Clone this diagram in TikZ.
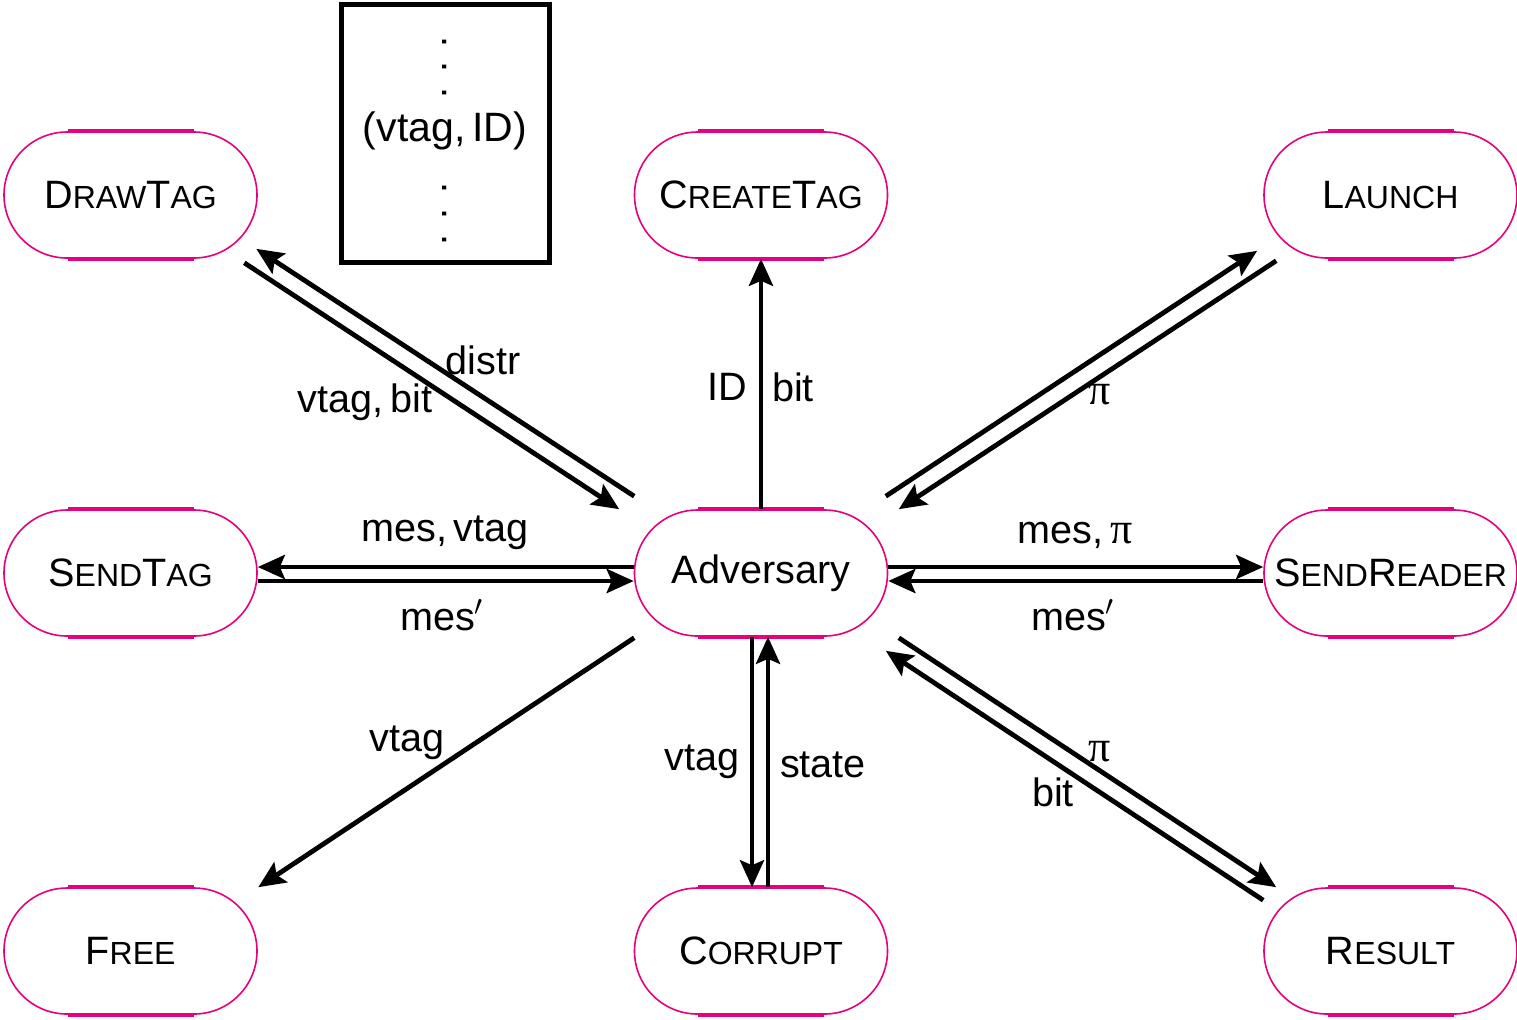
\documentclass[tikz,border=0pt]{standalone}
\usepackage{fontspec}
\setmainfont{Liberation Sans}
\newfontfamily\pifont{Liberation Serif}
\usetikzlibrary{arrows.meta,shapes.misc,calc}
\definecolor{mag}{RGB}{230,0,126}
\newcommand\fsc[1]{{\fontsize{16}{16}\selectfont #1}}
\newcommand\PI{{\pifont\fontsize{22}{22}\selectfont π}}
\begin{document}
\begin{tikzpicture}[x=0.5pt,y=-0.5pt,
  proc/.style={draw=mag,line width=0.8pt,rounded rectangle,minimum width=126.5pt,
    minimum height=63pt,inner sep=0pt,font=\fontsize{19.8}{22}\selectfont},
  lab/.style={inner sep=0pt,font=\fontsize{19.8}{22}\selectfont},
  conn/.style={line width=2.4pt,-{Stealth[length=13.5pt,width=12pt,inset=2.5pt]}},
  thickseg/.style={draw=mag,line width=2pt}]
\useasboundingbox (0,0) rectangle (1517,1019);
% nodes
\node[proc] (dt) at (130.5,195) {D\fsc{RAW}T\fsc{AG}};
\node[proc] (ct) at (761,195) {C\fsc{REATE}T\fsc{AG}};
\node[proc] (la) at (1390.5,195) {L\fsc{AUNCH}};
\node[proc] (st) at (130.5,573) {S\fsc{END}T\fsc{AG}};
\node[proc] (ad) at (761,573) {Adversary};
\node[proc] (sr) at (1390.5,573) {S\fsc{END}R\fsc{EADER}};
\node[proc] (fr) at (130.5,951) {F\fsc{REE}};
\node[proc] (co) at (761,951) {C\fsc{ORRUPT}};
\node[proc] (re) at (1390.5,951) {R\fsc{ESULT}};
\foreach \n in {dt,ct,la,st,ad,sr,fr,co,re}{
  \draw[thickseg] ($(\n.north)+(-63,0)$) -- ($(\n.north)+(63,0)$);
  \draw[thickseg] ($(\n.south)+(-63,0)$) -- ($(\n.south)+(63,0)$);
}
% bounding-box corners of nodes
\coordinate (adNW) at (ad.west |- ad.north);
\coordinate (adNE) at (ad.east |- ad.north);
\coordinate (adSW) at (ad.west |- ad.south);
\coordinate (adSE) at (ad.east |- ad.south);
\coordinate (dtSE) at (dt.east |- dt.south);
\coordinate (laSW) at (la.west |- la.south);
\coordinate (frNE) at (fr.east |- fr.north);
\coordinate (reNW) at (re.west |- re.north);
% box
\node[draw,line width=2.5pt,minimum width=104pt,minimum height=129pt,inner sep=0pt] (box) at (445,133) {};
\node[lab,rotate=-90] (dots1) at (445,67.5) {. . .};
\node[lab,font=\fontsize{20.5}{22}\selectfont] (pair) at (445,131) {(vtag,\,ID)};
\node[lab,rotate=-90] (dots2) at (445,214) {. . .};
% DrawTag
\draw[conn] ($(adNW)+(0.5,-13)$) -- ($(dtSE)+(-1.5,-10)$);
\draw[conn] ($(dtSE)+(-13.5,4)$) -- ($(adNW)+(-14.5,0)$);
\node[lab] (l1) at (483,360) {distr};
\node[lab] (l2) at (365,402) {vtag,\,bit};
% CreateTag
\draw[conn] (ad.north) -- (ct.south);
\node[lab] (l3) at (727,387) {ID};
\node[lab] (l4) at (793,387) {bit};
% Launch
\draw[conn] ($(adNE)+(-2.5,-13)$) -- ($(laSW)+(-6,-8)$);
\draw[conn] ($(laSW)+(13,2)$) -- ($(adNE)+(10.5,0)$);
\node[lab] (l5) at (1100,395) {\PI};
% SendTag
\draw[conn] ($(ad.west)+(0,-6)$) -- ($(st.east)+(0,-6)$);
\draw[conn] ($(st.east)+(0,8)$) -- ($(ad.west)+(0,8)$);
\node[lab] (l6) at (445,533) {mes,\,vtag};
\node[lab] (l7) at (442,615) {mes$^{\prime}$};
% SendReader
\draw[conn] ($(ad.east)+(0,-6)$) -- ($(sr.west)+(0,-6)$);
\draw[conn] ($(sr.west)+(0,8)$) -- ($(ad.east)+(0,8)$);
\node[lab] (l8) at (1075,535) {mes,\,\PI};
\node[lab] (l9) at (1073,615) {mes$^{\prime}$};
% Free
\draw[conn] ($(adSW)+(0.5,1)$) -- ($(frNE)+(0.5,0)$);
\node[lab] (l10) at (407,743) {vtag};
% Corrupt
\draw[conn] ($(ad.south)+(-9,0)$) -- ($(co.north)+(-9,0)$);
\draw[conn] ($(co.north)+(7,0)$) -- ($(ad.south)+(7,0)$);
\node[lab] (l11) at (702,762) {vtag};
\node[lab] (l12) at (823,765) {state};
% Result
\draw[conn] ($(adSE)+(10.5,1)$) -- ($(reNW)+(13,0)$);
\draw[conn] ($(reNW)+(0,13)$) -- ($(adSE)+(-2.5,14)$);
\node[lab] (l13) at (1100,752) {\PI};
\node[lab] (l14) at (1053,792) {bit};
\end{tikzpicture}
\end{document}
